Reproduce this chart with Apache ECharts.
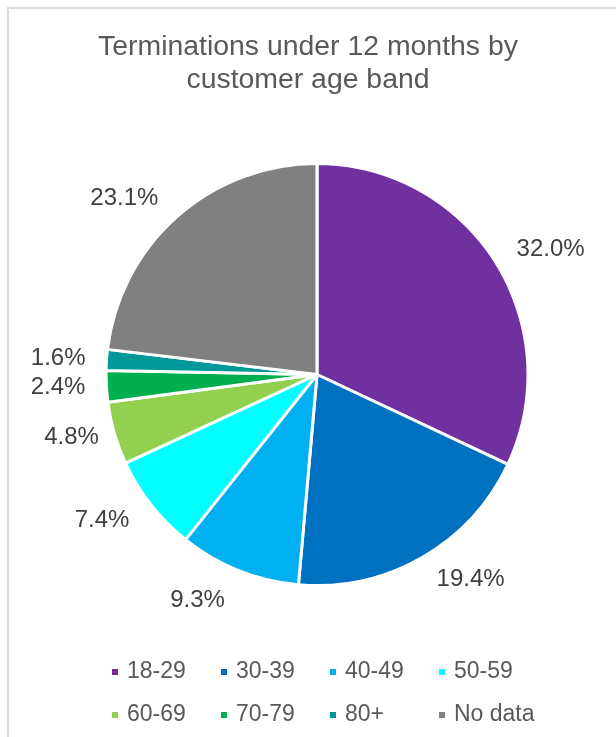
<!DOCTYPE html>
<html>
<head>
<meta charset="utf-8">
<script src="https://cdn.jsdelivr.net/npm/echarts@6/dist/echarts.min.js"></script>
<style>
html,body{margin:0;padding:0;background:#fff;}
#chart{width:616px;height:737px;}
</style>
</head>
<body>
<div id="chart"></div>
<script>
var titleText = 'Terminations under 12 months by\ncustomer age band';
var categories = ['18-29', '30-39', '40-49', '50-59', '60-69', '70-79', '80+', 'No data'];
var values = [32.0, 19.4, 9.3, 7.4, 4.8, 2.4, 1.6, 23.1];
var colors = ['#7030A0', '#0070C0', '#00B0F0', '#00FFFF', '#92D050', '#00B050', '#009999', '#808080'];
// label distance from the pie edge (style only)
var labelGaps = [23, 25, 32, 25, 14, 19, 19, 25];

var font = '"Liberation Sans", Arial, sans-serif';
var chart = echarts.init(document.getElementById('chart'), null, {renderer: 'canvas'});
var data = categories.map(function (c, i) {
  return {
    name: c,
    value: values[i],
    itemStyle: {color: colors[i]},
    labelLine: {show: false, length: labelGaps[i], length2: 0}
  };
});
chart.setOption({
  animation: false,
  backgroundColor: '#ffffff',
  graphic: [{
    type: 'rect',
    shape: {x: 8, y: 8, width: 700, height: 800},
    style: {fill: 'none', stroke: '#d9d9d9', lineWidth: 2},
    silent: true
  }],
  title: {
    text: titleText,
    left: 'center',
    top: 31,
    padding: [0, 0, 0, 17],
    textStyle: {fontFamily: font, fontSize: 28.4, fontWeight: 'normal', color: '#595959', lineHeight: 33}
  },
  legend: {
    data: categories,
    left: 110,
    top: 659,
    width: 430,
    padding: 0,
    itemWidth: 8,
    itemHeight: 8,
    itemGap: 17,
    icon: 'rect',
    textStyle: {fontFamily: font, fontSize: 23, color: '#595959', width: 75, lineHeight: 26, padding: [0, 0, 0, 3]},
    selectedMode: false
  },
  series: [{
    type: 'pie',
    center: [317, 374.5],
    radius: 211,
    startAngle: 90,
    clockwise: true,
    avoidLabelOverlap: false,
    data: data,
    itemStyle: {borderColor: '#ffffff', borderWidth: 3},
    label: {
      show: true,
      position: 'outside',
      formatter: function (p) { return p.value.toFixed(1) + '%'; },
      fontFamily: font,
      fontSize: 24,
      color: '#404040',
      distanceToLabelLine: 2
    },
    labelLine: {show: false, length: 24, length2: 0},
    emphasis: {disabled: true}
  }]
});
</script>
</body>
</html>
